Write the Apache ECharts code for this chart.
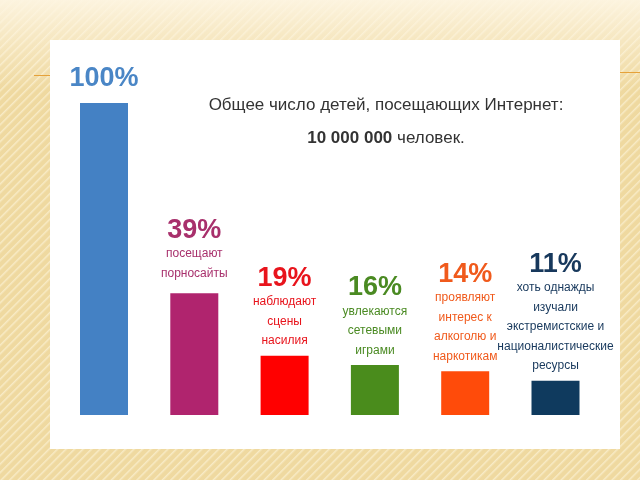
<!DOCTYPE html>
<html>
<head>
<meta charset="utf-8">
<script src="https://cdn.jsdelivr.net/npm/echarts@6/dist/echarts.min.js"></script>
<style>
    html, body { margin: 0; padding: 0; }
    body {
        width: 640px; height: 480px; overflow: hidden; position: relative;
        background:
            linear-gradient(to bottom, rgba(253, 245, 226, 0.95) 0px, rgba(253, 245, 226, 0.6) 30px, rgba(253, 245, 226, 0) 90px),
            repeating-linear-gradient(135deg, #efd9a0 0px, #efd9a0 3px, #f8ebc6 4px, #efd9a0 6px);
    }
    #panel { position: absolute; left: 50px; top: 40px; width: 570px; height: 409px; background: #fff; }
    .rule { position: absolute; height: 1px; background: #e6a23a; }
    #chart { position: absolute; left: 0; top: 0; width: 640px; height: 480px; }
</style>
</head>
<body>
<div class="rule" style="left:34px;top:75px;width:16px;"></div>
<div class="rule" style="left:620px;top:72px;width:20px;"></div>
<div id="panel"></div>
<div id="chart"></div>
<script>
// 数据
const categories = ['all', 'porn', 'violence', 'games', 'alcohol', 'extreme'];
const percentValues = [100, 39, 19, 16, 14, 11];
const percentLabels = ['100%', '39%', '19%', '16%', '14%', '11%'];
const descriptions = [
    [],
    ['посещают', 'порносайты'],
    ['наблюдают', 'сцены', 'насилия'],
    ['увлекаются', 'сетевыми', 'играми'],
    ['проявляют', 'интерес к', 'алкоголю и', 'наркотикам'],
    ['хоть однажды', 'изучали', 'экстремистские и', 'националистические', 'ресурсы']
];
const barColors = ['#4481c4', '#b0246e', '#ff0000', '#4a8c1c', '#ff4b0a', '#0f3a5e'];
const labelColors = ['#4a86c6', '#a8306c', '#e8141c', '#4a8a22', '#f05a1c', '#17385c'];

const dom = document.getElementById('chart');
const myChart = echarts.init(dom);

const seriesData = percentValues.map((v, i) => ({
    value: v,
    itemStyle: { color: barColors[i] },
    label: {
        distance: i < 2 ? 10 : 5,
        rich: {
            p: { fontFamily: 'Liberation Sans', fontWeight: 'bold', fontSize: 27, lineHeight: 28, color: labelColors[i] },
            d: { fontFamily: 'Liberation Sans', fontSize: 12, lineHeight: 19.5, color: labelColors[i] }
        }
    }
}));

const option = {
    backgroundColor: 'transparent',
    animation: false,
    title: {
        left: 381,
        top: 84,
        textAlign: 'center',
        text: '{a|Общее число детей, посещающих Интернет:}\n{b|10 000 000}{a| человек.}',
        textStyle: {
            fontWeight: 'normal',
            rich: {
                a: { fontFamily: 'Liberation Sans', fontSize: 17, lineHeight: 33, fontWeight: 'normal', color: '#333333' },
                b: { fontFamily: 'Liberation Sans', fontSize: 17, lineHeight: 33, fontWeight: 'bold', color: '#333333' }
            }
        }
    },
    grid: {
        left: 58.85,
        right: 39.35,
        top: 103,
        bottom: 65
    },
    xAxis: {
        type: 'category',
        data: categories,
        show: false
    },
    yAxis: {
        type: 'value',
        min: 0,
        max: 100,
        show: false
    },
    series: [{
        type: 'bar',
        barWidth: 48,
        data: seriesData,
        label: {
            show: true,
            position: 'top',
            align: 'center',
            formatter: p => {
                const lines = ['{p|' + percentLabels[p.dataIndex] + '}'];
                descriptions[p.dataIndex].forEach(t => lines.push('{d|' + t + '}'));
                return lines.join('\n');
            }
        }
    }]
};

myChart.setOption(option);

window.addEventListener('resize', function () {
    myChart.resize();
});
</script>
</body>
</html>
